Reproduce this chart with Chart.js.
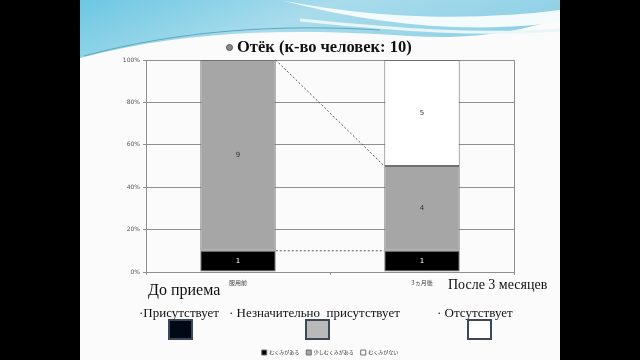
<!DOCTYPE html>
<html>
<head>
<meta charset="utf-8">
<script src="https://cdn.jsdelivr.net/npm/chart.js@4.4.1/dist/chart.umd.min.js"></script>
<style>
  html, body { margin: 0; padding: 0; background: #000; }
  #stage { position: relative; width: 640px; height: 360px; overflow: hidden; background: #000; }
  #slide { position: absolute; left: 80px; top: 0; width: 480px; height: 360px; background: #fbfbfb; }
  #wave { position: absolute; left: 0; top: 0; }
  #chartBox { position: absolute; left: 0; top: 0; width: 640px; height: 360px; }
  .txt { position: absolute; font-family: 'Liberation Serif', 'DejaVu Serif', serif; color: #111; line-height: 1; white-space: pre; }
  .title { font-weight: bold; font-size: 16.5px; }
  .dot { position: absolute; width: 5px; height: 5px; border-radius: 50%; background: #888; border: 1px solid #555; }
  .sq { position: absolute; width: 21px; height: 17px; border: 2px solid #3c4857; }
</style>
</head>
<body>
<div id="stage">
  <div id="slide"></div>
  <svg id="wave" width="640" height="360" viewBox="0 0 640 360">
    <defs>
      <linearGradient id="blue" x1="0" y1="0" x2="1" y2="0.3">
        <stop offset="0" stop-color="#6cc7e2"/>
        <stop offset="0.5" stop-color="#a9dcec"/>
        <stop offset="1" stop-color="#8fd0e6"/>
      </linearGradient>
      <clipPath id="slideClip"><rect x="80" y="0" width="480" height="360"/></clipPath>
    </defs>
    <g clip-path="url(#slideClip)">
      <path d="M80,0 H560 V18 C520,32 470,40 410,36 C320,30 200,26 80,58 Z" fill="url(#blue)"/>
      <path d="M280,0 C350,14 450,24 560,10 V22 C470,34 380,26 280,0 Z" fill="#f4fbfd"/>
      <path d="M84,56 C180,30 280,24 380,30" fill="none" stroke="#5ea9bf" stroke-width="1"/>
      <path d="M300,20 C400,30 480,36 560,30" fill="none" stroke="#e8f6fa" stroke-width="3"/>
    </g>
  </svg>
  <div id="chartBox"><canvas id="chart" width="640" height="360"></canvas></div>

  <div class="dot" style="left:226px; top:44px;"></div>
  <div class="txt title" style="left:237px; top:39px;">Отёк (к-во человек: 10)</div>

  <div class="txt" style="left:148px; top:282px; font-size:16px;">До приема</div>
  <div class="txt" style="left:448px; top:278px; font-size:14px;">После 3 месяцев</div>

  <div class="txt" style="left:139px; top:306px; font-size:13px;">·Присутствует</div>
  <div class="txt" style="left:229px; top:306px; font-size:13px;">· Незначительно  присутствует</div>
  <div class="txt" style="left:437px; top:306px; font-size:13px;">· Отсутствует</div>

  <div class="sq" style="left:168px; top:319px; background:#020916;"></div>
  <div class="sq" style="left:305px; top:319px; background:#b9b9b9;"></div>
  <div class="sq" style="left:467px; top:319px; background:#ffffff;"></div>
</div>

<script>
// Data (number of people, 10 in each group)
const categories = ['服用前', '3ヵ月後'];
const seriesNames = ['むくみがある', '少しむくみがある', 'むくみがない'];
const present = [1, 1];
const slight = [9, 4];
const absent = [0, 5];
const totals = [10, 10];

const counts = [present, slight, absent];
const toPercent = arr => arr.map((v, i) => v / totals[i] * 100);

const fillColors = ['#000000', '#a6a6a6', '#ffffff'];
const gridGrey = '#8f8f8f';

// value labels in the middle of each segment
const valueLabels = {
  id: 'valueLabels',
  afterDatasetsDraw(chart) {
    const ctx = chart.ctx;
    ctx.save();
    ctx.font = "7px 'DejaVu Sans', sans-serif";
    ctx.textAlign = 'center';
    ctx.textBaseline = 'middle';
    chart.data.datasets.forEach((ds, di) => {
      chart.getDatasetMeta(di).data.forEach((bar, i) => {
        const n = counts[di][i];
        if (!n) return;
        ctx.fillStyle = di === 0 ? '#ffffff' : '#333333';
        ctx.fillText(String(n), bar.x, (bar.y + bar.base) / 2);
      });
    });
    ctx.restore();
  }
};

// dashed series lines between the two stacks
const seriesLines = {
  id: 'seriesLines',
  afterDatasetsDraw(chart) {
    const ctx = chart.ctx;
    ctx.save();
    ctx.strokeStyle = '#555555';
    ctx.lineWidth = 1;
    ctx.setLineDash([2, 2]);
    [0, 1].forEach(di => {
      const bars = chart.getDatasetMeta(di).data;
      const a = bars[0], b = bars[1];
      ctx.beginPath();
      ctx.moveTo(a.x + a.width / 2, a.y);
      ctx.lineTo(b.x - b.width / 2, b.y);
      ctx.stroke();
    });
    ctx.restore();
  }
};

new Chart(document.getElementById('chart'), {
  type: 'bar',
  data: {
    labels: categories,
    datasets: seriesNames.map((name, di) => ({
      label: name,
      data: toPercent(counts[di]),
      backgroundColor: fillColors[di],
      borderColor: '#6f6f6f',
      borderWidth: 1,
      borderSkipped: false,
      barPercentage: 0.41,
      categoryPercentage: 1
    }))
  },
  options: {
    responsive: false,
    animation: false,
    layout: { padding: { left: 100, right: 126, top: 60, bottom: -5 } },
    plugins: {
      legend: {
        position: 'bottom',
        fullSize: false,
        labels: {
          font: { size: 5, family: "'Noto Sans CJK JP', sans-serif" },
          color: '#333',
          boxWidth: 5,
          boxHeight: 5,
          padding: 7
        }
      },
      tooltip: { enabled: false }
    },
    scales: {
      x: {
        stacked: true,
        grid: {
          offset: true,
          color: ctx => ctx.index === 1 ? 'rgba(0,0,0,0)' : gridGrey,
          tickColor: gridGrey,
          tickLength: 3
        },
        border: { color: gridGrey },
        ticks: {
          font: { size: 6, family: "'Noto Sans CJK JP', sans-serif" },
          color: '#444',
          padding: 4
        },
        afterFit: s => { s.height = 71; }
      },
      y: {
        stacked: true,
        min: 0,
        max: 100,
        ticks: {
          stepSize: 20,
          callback: v => v + '%',
          font: { size: 6, family: "'DejaVu Sans', sans-serif" },
          color: '#555',
          padding: 3
        },
        grid: { color: gridGrey, tickColor: gridGrey, tickLength: 3 },
        border: { color: gridGrey },
        afterFit: s => { s.width = 46; }
      }
    }
  },
  plugins: [valueLabels, seriesLines]
});
</script>
</body>
</html>
